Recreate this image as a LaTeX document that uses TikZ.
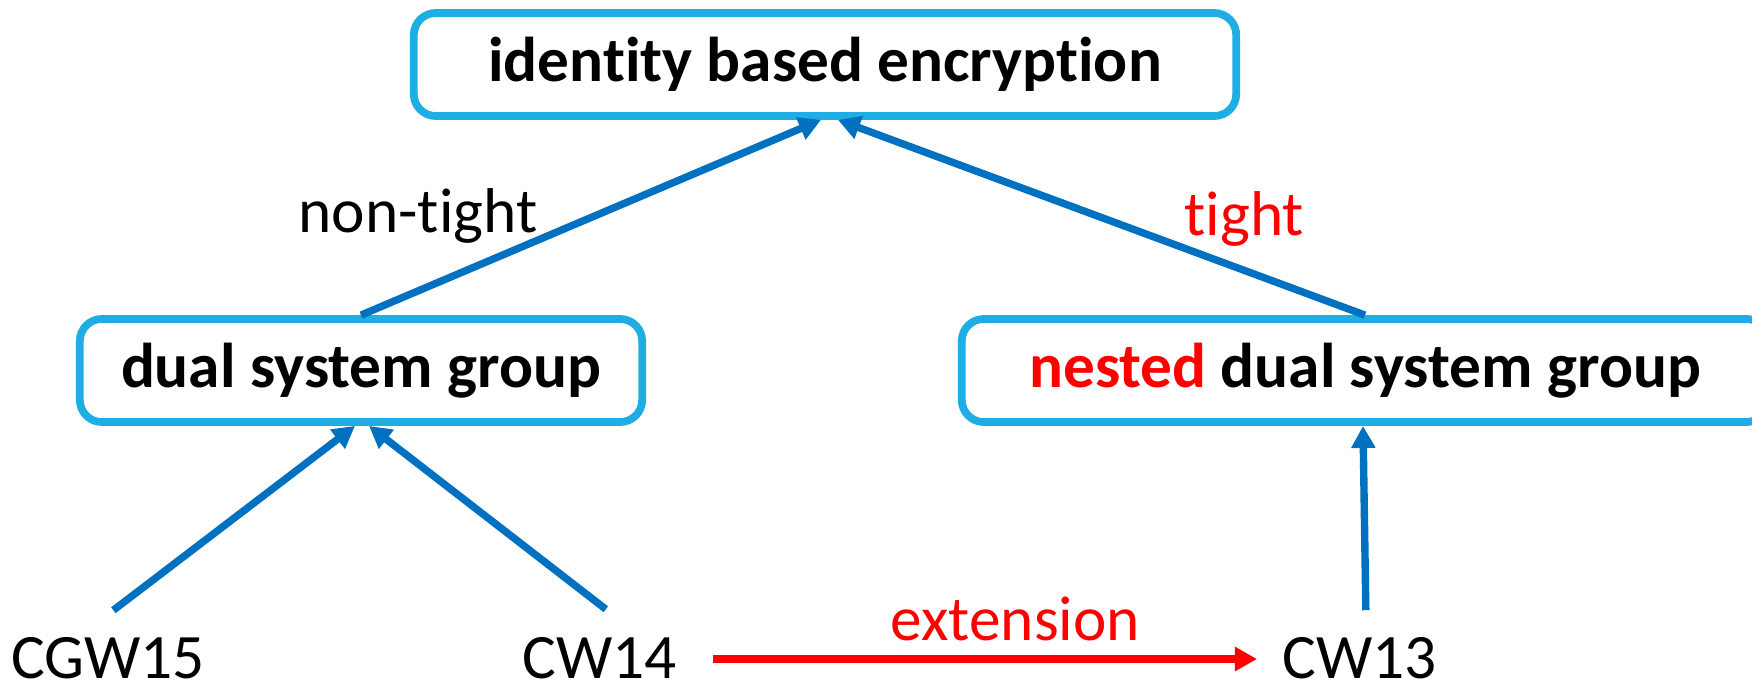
\documentclass[tikz,border=0pt]{standalone}
\usepackage{fontspec}
\setmainfont{Carlito}[Ligatures=NoCommon]
\usetikzlibrary{arrows.meta}
\definecolor{boxcyan}{RGB}{30,174,228}
\definecolor{arrowblue}{RGB}{0,112,192}
\definecolor{hired}{RGB}{255,0,0}
\tikzset{
  px/.style={x=0.01cm,y=-0.01cm},
  titlebox/.style={draw=boxcyan,line width=2.2pt,rounded corners=0.22cm,fill=white,
    inner sep=0pt,minimum height=1.03cm,font=\fontsize{18}{20}\selectfont\bfseries},
  plain/.style={inner sep=0pt,font=\fontsize{18}{20}\selectfont},
  link/.style={draw=arrowblue,line width=2.1pt,-{Triangle[length=0.22cm,width=0.23cm]}},
  extlink/.style={draw=hired,line width=2.1pt,-{Triangle[length=0.22cm,width=0.23cm]}}
}
\begin{document}
\begin{tikzpicture}[px]
  \useasboundingbox (0,0) rectangle (1752,687);
  \clip (0,0) rectangle (1752,687);
  % framed concepts
  \node[titlebox,minimum width=8.22cm] (ibe) at (825,64.5) {identity based encryption};
  \node[titlebox,minimum width=5.62cm] (dsg) at (361,370.5) {dual system group};
  \node[titlebox,minimum width=8.06cm] (ndsg) at (1365,370.5) {\textcolor{hired}{nested} dual system group};
  % references
  \node[plain,anchor=base west] (cgw15) at (11,678) {CGW15};
  \node[plain,anchor=base west] (cw14) at (522,678) {CW14};
  \node[plain,anchor=base west] (cw13) at (1282,678) {CW13};
  % edge labels
  \node[plain,anchor=base west] (lnt) at (298,232) {non-tight};
  \node[plain,anchor=base west,text=hired] (lt) at (1184,235) {tight};
  \node[plain,anchor=base west,text=hired] (lext) at (890,640) {extension};
  % connectors
  \draw[link] (dsg.north) -- ([xshift=-0.04cm]ibe.south);
  \draw[link] (ndsg.north) -- ([xshift=0.13cm]ibe.south);
  \draw[link] ([shift={(0.05cm,0.26cm)}]cgw15.north) -- ([xshift=-0.06cm]dsg.south);
  \draw[link] ([shift={(0.06cm,0.27cm)}]cw14.north) -- ([xshift=0.08cm]dsg.south);
  \draw[link] ([shift={(0.06cm,0.26cm)}]cw13.north) -- ([xshift=-0.02cm]ndsg.south);
  \draw[extlink] ([xshift=0.35cm,yshift=0.19cm]cw14.base east) -- ([xshift=-0.25cm,yshift=0.19cm]cw13.base west);
\end{tikzpicture}
\end{document}
